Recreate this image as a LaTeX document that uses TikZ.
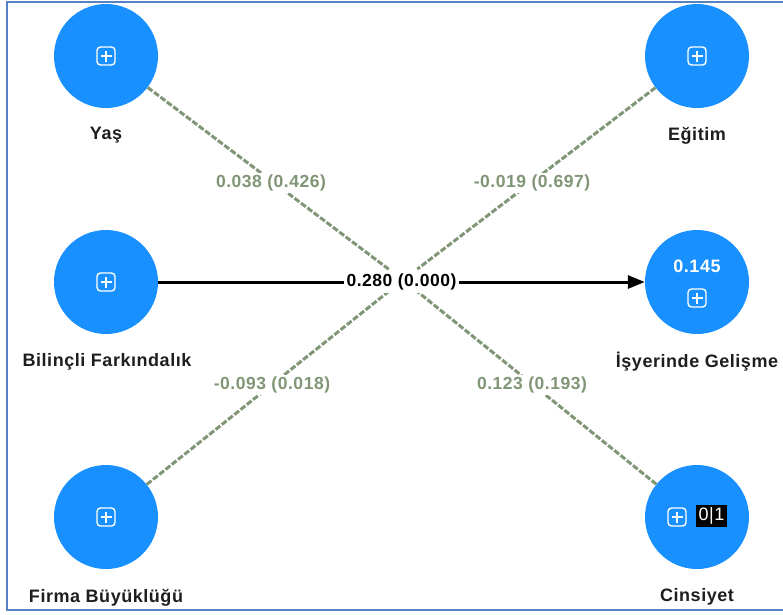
\documentclass[tikz,border=0pt]{standalone}
\usepackage{fontspec}
\setmainfont{Liberation Sans}[LetterSpace=3]
\usetikzlibrary{arrows.meta}
\definecolor{plsblue}{RGB}{24,144,255}
\definecolor{pathgreen}{RGB}{128,150,118}
\definecolor{framebl}{RGB}{84,130,196}
\definecolor{labeltxt}{RGB}{30,30,30}
\tikzset{
  plusicon/.pic={
    \draw[white,line width=1.4pt,rounded corners=3.5pt] (-9,-9) rectangle (9,9);
    \draw[white,line width=1.4pt] (-5.5,0) -- (5.5,0) (0,-5.5) -- (0,5.5);
  }
}
\begin{document}
\begin{tikzpicture}[x=1pt,y=-1pt,
  lv/.style={circle,fill=plsblue,minimum size=104pt,inner sep=0pt},
  lvlabel/.style={font=\bfseries\fontsize{18}{20}\selectfont,text=labeltxt,inner sep=0pt},
  coef/.style={font=\bfseries\fontsize{17.5}{19}\selectfont,text=pathgreen,fill=white,inner sep=1.5pt},
  ctrl/.style={draw=pathgreen,line width=3pt,dash pattern=on 6pt off 2pt,shorten >=18pt},
  mainpath/.style={draw=black,line width=3pt,-{Triangle[length=17pt,width=13pt]}},
]
\useasboundingbox (0,0) rectangle (783,614);
\fill[white] (0,0) rectangle (783,614);
\draw[framebl,line width=1.8pt] (783,2) -- (7,2) -- (7,610) -- (783,610);

% latent variables
\node[lv] (yas) at (106,56) {};
\node[lv] (egi) at (697,56) {};
\node[lv] (bil) at (106,282) {};
\node[lv] (isy) at (697,282) {};
\node[lv] (fir) at (106,517) {};
\node[lv] (cin) at (697,517) {};

\coordinate (cross) at (403,280);

% control paths
\draw[ctrl] (yas) -- (cross);
\draw[ctrl] (egi) -- (cross);
\draw[ctrl] (fir) -- (cross);
\draw[ctrl] (cin) -- (cross);

% main path
\draw[mainpath] (bil) -- (isy) node[pos=0.5,fill=white,inner sep=3pt,font=\bfseries\fontsize{17.5}{19}\selectfont,text=black] (mainc) {0.280 (0.000)};

% coefficient labels
\node[coef] (c1) at (271,183) {0.038 (0.426)};
\node[coef] (c2) at (532,183) {-0.019 (0.697)};
\node[coef] (c3) at (272,385) {-0.093 (0.018)};
\node[coef] (c4) at (532,385) {0.123 (0.193)};

% icons
\pic at (106,56) {plusicon};
\pic at (697,56) {plusicon};
\pic at (106,282) {plusicon};
\pic at (697,298) {plusicon};
\pic at (106,517) {plusicon};
\pic at (677,517) {plusicon};
\node[font=\bfseries\fontsize{18}{20}\selectfont,text=white,inner sep=0pt] (r2) at (697,266) {0.145};
\node[fill=black,text=white,minimum width=31pt,minimum height=22pt,inner sep=0pt,font=\fontsize{18}{20}\selectfont] (bin) at (711.5,516) {0|1};

% variable labels
\node[lvlabel] (yasl) at (106,135) {Yaş};
\node[lvlabel] (egil) at (697,136) {Eğitim};
\node[lvlabel] (bill) at (107,362) {Bilinçli Farkındalık};
\node[lvlabel] (isyl) at (697,362) {İşyerinde Gelişme};
\node[lvlabel] (firl) at (106,598) {Firma Büyüklüğü};
\node[lvlabel] (cinl) at (697,597) {Cinsiyet};
\end{tikzpicture}
\end{document}
